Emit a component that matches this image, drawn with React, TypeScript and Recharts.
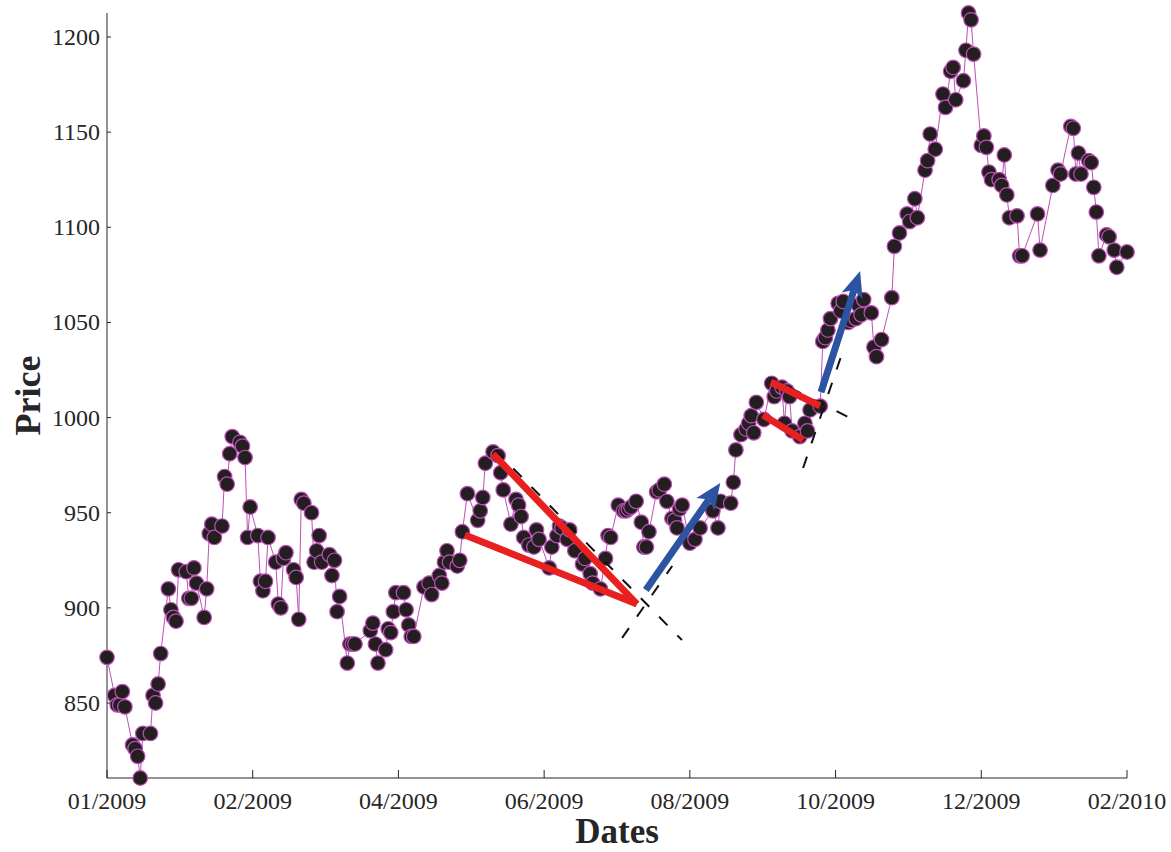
import React from "react";
import { ComposedChart, Line, XAxis, YAxis, ReferenceLine } from "recharts";

// trading-day offsets (days since 2 Jan 2009) and closing prices
const days = [
  0, 3, 4, 5, 6, 7, 10, 11, 12, 13, 14, 17, 18, 19, 20, 21, 24, 25, 26, 27, 28,
  31, 32, 33, 34, 35, 38, 39, 40, 41, 42, 45, 46, 47, 48, 49, 52, 53, 54, 55, 56,
  59, 60, 61, 62, 63, 66, 67, 68, 69, 70, 73, 74, 75, 76, 77, 80, 81, 82, 83, 84,
  87, 88, 89, 90, 91, 94, 95, 96, 97, 103, 104, 105, 106, 109, 110, 111, 112, 113,
  116, 117, 118, 119, 120, 124, 126, 127, 130, 131, 132, 133, 134, 137, 138, 139,
  141, 145, 146, 147, 148, 151, 153, 154, 155, 158, 160, 161, 162, 163, 165, 167,
  168, 169, 173, 174, 176, 177, 178, 180, 181, 183, 186, 187, 189, 190, 193, 195,
  196, 197, 200, 202, 203, 204, 205, 207, 209, 210, 211, 212, 215, 216, 218, 219,
  221, 222, 223, 224, 225, 228, 230, 232, 237, 239, 240, 244, 245, 246, 248, 250,
  251, 252, 253, 254, 257, 260, 261, 262, 264, 265, 266, 267, 268, 271, 273, 274,
  275, 279, 280, 281, 282, 283, 286, 287, 288, 290, 291, 293, 294, 295, 296, 299,
  300, 301, 303, 307, 308, 310, 313, 314, 316, 317, 320, 321, 322, 324, 327, 328,
  330, 331, 332, 335, 336, 337, 338, 339, 342, 343, 344, 345, 346, 349, 350, 351,
  352, 353, 356, 357, 358, 364, 365, 370, 372, 373, 377, 378, 379, 380, 381, 384,
  385, 386, 387, 388, 391, 392, 394, 395, 399,
];

const prices = [
  874, 854, 849, 849, 856, 848, 828, 826, 822, 810.6, 834, 834, 854, 850, 860, 876,
  910, 899, 895, 893, 920, 919, 905, 905, 921, 913, 895, 910, 939, 944, 937, 943,
  969, 965, 981, 990, 987, 985, 979, 937, 953, 938, 914, 909, 914, 937, 924, 902,
  900, 926, 929, 920, 916, 894, 957, 955, 950, 924, 930, 938, 924, 928, 917, 925,
  898, 906, 871, 881, 881, 881, 888, 892, 881, 871, 878, 889, 887, 898, 908, 908,
  899, 891, 885, 885, 911, 913, 907, 917, 913, 924, 930, 924, 922, 925, 940, 960,
  946, 951, 958, 976, 982, 980, 971, 962, 944, 957, 954, 948, 937, 933, 932, 941,
  936, 921, 932, 938, 943, 942, 936, 941, 930, 923, 926, 918, 913, 910, 926, 938,
  937, 954, 951, 951, 952, 953, 956, 945, 932, 932, 940, 961, 962, 965, 956, 947,
  946, 942, 952, 954, 934, 936, 942, 951, 942, 956, 955, 966, 983, 991, 994, 997,
  1001, 992, 1008, 999, 1018, 1011, 1014, 1016, 997, 1014, 1011, 993, 990, 997, 993,
  1004, 1006, 1040, 1042, 1046, 1052, 1060, 1056, 1061, 1050, 1051, 1052, 1059, 1054,
  1062, 1055, 1037, 1032, 1041, 1063, 1090, 1097, 1107, 1103, 1115, 1105, 1130, 1135,
  1149, 1141, 1170, 1163, 1182, 1184, 1167, 1177, 1193, 1212.6, 1209, 1191, 1143,
  1148, 1142, 1129, 1125, 1125, 1122, 1138, 1117, 1105, 1106, 1085, 1085, 1107, 1088,
  1122, 1130, 1128, 1153, 1152, 1128, 1139, 1128, 1135, 1134, 1121, 1108, 1085, 1096,
  1095, 1088, 1079, 1087,
];

const tickDays = [0, 57, 114, 171, 228, 285, 342, 399];
const tickLabels = ["01/2009", "02/2009", "04/2009", "06/2009", "08/2009", "10/2009", "12/2009", "02/2010"];
const priceTicks = [850, 900, 950, 1000, 1050, 1100, 1150, 1200];

// trend lines, [day, price] pairs
const redLines = [
  [[140, 938.3], [207.3, 902]],
  [[151, 980.9], [207.3, 902]],
  [[259.7, 1018.7], [278.9, 1006.1]],
  [[256.6, 1001.4], [272.3, 988.2]],
];
const dashedLines = [
  [[151.8, 983], [224.9, 883.1]],
  [[201.5, 884.2], [221.1, 922]],
  [[267.2, 1015.6], [293.8, 997.7]],
  [[272.3, 973.5], [287.6, 1033.9]],
];
const blueArrows = [
  [[210.8, 909.4], [239.9, 965.6]],
  [[279.3, 1013.4], [294.6, 1077]],
];

const data = days.map((d, i) => ({ day: d, price: prices[i] }));

const AXIS = "#262626";
const SERIF = "'Liberation Serif', 'DejaVu Serif', serif";
const MAGENTA = "#bd4fb6";
const RED = "#e8201f";
const BLUE = "#2d53a3";

function XTick({ x, y, payload }: any) {
  const label = tickLabels[tickDays.indexOf(payload.value)];
  return (
    <g>
      <line x1={x} y1={y} x2={x} y2={y - 8} stroke={AXIS} />
      <text x={x} y={y + 31} textAnchor="middle" fontSize={24} fontFamily={SERIF} fill={AXIS}>
        {label}
      </text>
    </g>
  );
}

function YTick({ x, y, payload }: any) {
  return (
    <g>
      <line x1={x} y1={y} x2={x + 4} y2={y} stroke={AXIS} />
      <text
        x={x - 7}
        y={y}
        textAnchor="end"
        dominantBaseline="central"
        fontSize={24}
        fontFamily={SERIF}
        fill={AXIS}
      >
        {payload.value}
      </text>
    </g>
  );
}

function Arrow({ x1, y1, x2, y2 }: any) {
  const len = Math.hypot(x2 - x1, y2 - y1);
  const ux = (x2 - x1) / len;
  const uy = (y2 - y1) / len;
  const head = 26;
  const half = 11;
  const bx = x2 - ux * head;
  const by = y2 - uy * head;
  const nx = x2 - ux * (head - 6);
  const ny = y2 - uy * (head - 6);
  const px = -uy;
  const py = ux;
  return (
    <g>
      <line x1={x1} y1={y1} x2={nx} y2={ny} stroke={BLUE} strokeWidth={7} />
      <polygon
        points={`${x2},${y2} ${bx + px * half},${by + py * half} ${nx},${ny} ${bx - px * half},${by - py * half}`}
        fill={BLUE}
      />
    </g>
  );
}

const seg = (s: number[][]) => [
  { x: s[0][0], y: s[0][1] },
  { x: s[1][0], y: s[1][1] },
];

export default function App() {
  return (
    <div style={{ position: "absolute", left: 0, top: 0, background: "#fff" }}>
      <ComposedChart
        width={1171}
        height={852}
        data={data}
        margin={{ top: 13, right: 44, bottom: 14, left: 47 }}
      >
        <XAxis
          dataKey="day"
          type="number"
          domain={["dataMin", "dataMax"]}
          ticks={tickDays}
          interval={0}
          height={60}
          tickSize={0}
          tickMargin={0}
          tickLine={false}
          axisLine={{ stroke: AXIS }}
          tick={<XTick />}
          label={{
            content: ({ viewBox }: any) => (
              <text
                x={viewBox.x + viewBox.width / 2}
                y={viewBox.y + 65}
                textAnchor="middle"
                fontSize={35}
                fontWeight="bold"
                fontFamily={SERIF}
                fill={AXIS}
              >
                Dates
              </text>
            ),
          }}
        />
        <YAxis
          type="number"
          domain={["dataMin", "dataMax"]}
          ticks={priceTicks}
          interval={0}
          width={60}
          tickSize={0}
          tickMargin={0}
          tickLine={false}
          axisLine={{ stroke: AXIS }}
          tick={<YTick />}
          label={{
            content: ({ viewBox }: any) => {
              const cx = viewBox.x - 7;
              const cy = viewBox.y + viewBox.height / 2;
              return (
                <text
                  x={cx}
                  y={cy}
                  transform={`rotate(-90 ${cx} ${cy})`}
                  textAnchor="middle"
                  fontSize={36}
                  fontWeight="bold"
                  fontFamily={SERIF}
                  fill={AXIS}
                >
                  Price
                </text>
              );
            },
          }}
        />
        <Line
          dataKey="price"
          stroke={MAGENTA}
          strokeWidth={1}
          dot={{ r: 7.3, fill: "#231f20", stroke: MAGENTA, strokeWidth: 1.2 }}
          activeDot={false}
          isAnimationActive={false}
        />
        {dashedLines.map((s, i) => (
          <ReferenceLine
            key={`d${i}`}
            segment={seg(s)}
            stroke="#111"
            strokeWidth={2}
            strokeDasharray="12 14"
            zIndex={1000}
          />
        ))}
        {redLines.map((s, i) => (
          <ReferenceLine key={`r${i}`} segment={seg(s)} stroke={RED} strokeWidth={7} zIndex={1001} />
        ))}
        {blueArrows.map((s, i) => (
          <ReferenceLine
            key={`b${i}`}
            segment={seg(s)}
            shape={(p: any) => <Arrow {...p} />}
            zIndex={1002}
          />
        ))}
      </ComposedChart>
    </div>
  );
}
